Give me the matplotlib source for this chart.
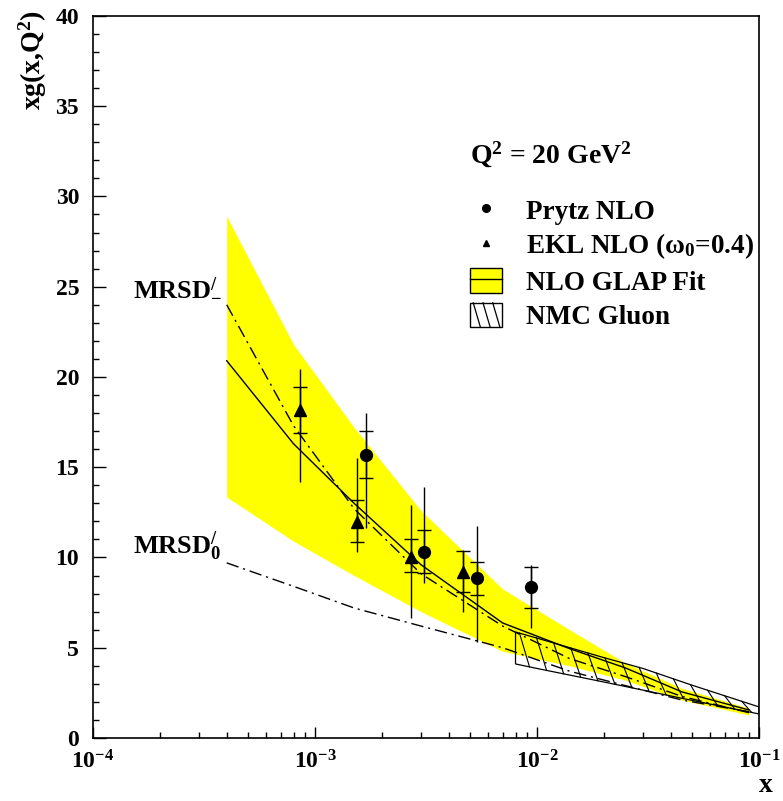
import numpy as np
import matplotlib
matplotlib.use('Agg')
import matplotlib.pyplot as plt
from matplotlib.lines import Line2D
from matplotlib.patches import Patch, Rectangle, Polygon
from matplotlib.legend_handler import HandlerBase, HandlerTuple
from matplotlib.ticker import LogLocator, MultipleLocator, NullFormatter

plt.rcParams['font.family'] = ['Liberation Serif', 'DejaVu Serif']
plt.rcParams['font.weight'] = 'bold'
plt.rcParams['mathtext.fontset'] = 'custom'
plt.rcParams['mathtext.rm'] = 'Liberation Serif:bold'
plt.rcParams['mathtext.bf'] = 'Liberation Serif:bold'
plt.rcParams['mathtext.it'] = 'Liberation Serif:bold'
plt.rcParams['mathtext.default'] = 'bf'
plt.rcParams['axes.unicode_minus'] = False

# ---------------- data ----------------
x_grid = [4e-4, 8e-4, 1.5e-3, 3e-3, 7e-3, 1.4e-2, 2.5e-2, 4.5e-2, 9e-2]
band_hi = [28.9, 21.8, 17.2, 12.6, 8.25, 6.0, 4.15, 2.75, 1.65]
band_lo = [13.35, 10.9, 9.0, 7.0, 4.8, 4.0, 3.2, 2.1, 1.27]
glap_fit = [20.9, 16.3, 13.0, 9.6, 6.37, 4.95, 3.88, 2.55, 1.55]
mrsd_minus = [24.0, 17.3, 12.7, 9.1, 6.2, 4.4, 3.4, 2.3, 1.4]
mrsd_zero = [9.7, 8.4, 7.2, 6.2, 5.0, 3.7, 2.9, 2.1, 1.45]

prytz_x = [1.70e-3, 3.10e-3, 5.37e-3, 9.4e-3]
prytz_y = [15.68, 10.3, 8.86, 8.37]
prytz_tot_hi = [18.0, 13.9, 11.75, 9.58]
prytz_tot_lo = [11.63, 8.59, 5.32, 6.09]
prytz_stat_hi = [17.0, 11.52, 9.75, 9.47]
prytz_stat_lo = [14.4, 9.14, 7.92, 7.2]

ekl_x = [8.55e-4, 1.55e-3, 2.70e-3, 4.65e-3]
ekl_y = [18.17, 11.97, 10.03, 9.2]
ekl_tot_hi = [20.44, 15.51, 12.91, 10.42]
ekl_tot_lo = [14.18, 10.3, 6.65, 6.98]
ekl_stat_hi = [19.45, 13.19, 11.02, 10.36]
ekl_stat_lo = [16.9, 10.86, 9.2, 8.09]

nmc_x = [0.008, 0.01, 0.02, 0.03, 0.05, 0.1]
nmc_hi = [5.87, 5.53, 4.45, 3.85, 2.92, 1.72]
nmc_lo = [4.1, 3.85, 3.1, 2.65, 2.08, 1.33]

y_ticks = [0, 5, 10, 15, 20, 25, 30, 35, 40]
legend_labels = ['Prytz NLO', 'EKL NLO (ω$_{0}$=0.4)', 'NLO GLAP Fit', 'NMC Gluon']

# ---------------- figure ----------------
fig = plt.figure(figsize=(7.83, 8.01), dpi=100)
ax = fig.add_axes([0.1188, 0.0787, 0.8506, 0.9014])
ax.set_xscale('log')
ax.set_xlim(1e-4, 1e-1)
ax.set_ylim(0, 40)

ax.fill_between(x_grid, band_lo, band_hi, color='#ffff00', lw=0, zorder=1)
dashdot = (0, (9, 3.5, 1.5, 3.5))
ax.plot(x_grid, glap_fit, color='k', lw=1.0, zorder=3)
ax.plot(x_grid, mrsd_minus, color='k', lw=1.0, ls=dashdot, zorder=3)
ax.plot(x_grid, mrsd_zero, color='k', lw=1.0, ls=dashdot, zorder=3)

# NMC hatched region
poly_x = list(nmc_x) + list(nmc_x[::-1])
poly_y = list(nmc_hi) + list(nmc_lo[::-1])
ax.add_patch(Polygon(np.column_stack([poly_x, poly_y]), closed=True, fill=False,
                     edgecolor='k', lw=0.9, zorder=4))
lx = np.log10(nmc_x)
step, shift = 0.077, 0.045
for t in np.arange(lx[0] + 0.018, lx[-1] - shift + 1e-9, step):
    ax.plot([10 ** t, 10 ** (t + shift)],
            [np.interp(t, lx, nmc_hi), np.interp(t + shift, lx, nmc_lo)],
            color='k', lw=0.8, zorder=4)

# data points with error bars
def draw_points(xs, ys, thi, tlo, shi, slo, marker, ms):
    xs = np.array(xs); ys = np.array(ys)
    ax.errorbar(xs, ys, yerr=[ys - np.array(tlo), np.array(thi) - ys], fmt='none',
                ecolor='k', elinewidth=1.0, capsize=0, zorder=5)
    ax.errorbar(xs, ys, yerr=[ys - np.array(slo), np.array(shi) - ys], fmt='none',
                ecolor='k', elinewidth=1.0, capsize=5, capthick=1.0, zorder=5)
    ax.plot(xs, ys, ls='none', marker=marker, color='k', ms=ms, zorder=6)

draw_points(prytz_x, prytz_y, prytz_tot_hi, prytz_tot_lo, prytz_stat_hi, prytz_stat_lo, 'o', 8.5)
draw_points(ekl_x, ekl_y, ekl_tot_hi, ekl_tot_lo, ekl_stat_hi, ekl_stat_lo, '^', 9)

# axes styling
ax.yaxis.set_major_locator(MultipleLocator(5))
ax.yaxis.set_minor_locator(MultipleLocator(1))
ax.set_yticks(y_ticks)
ax.xaxis.set_major_locator(LogLocator(base=10, numticks=10))
ax.xaxis.set_minor_locator(LogLocator(base=10, subs=np.arange(2, 10), numticks=20))
ax.xaxis.set_minor_formatter(NullFormatter())
ax.tick_params(which='both', direction='in', top=False, right=False, width=1.0)
ax.tick_params(axis='y', which='major', length=9, labelsize=17, pad=10)
ax.tick_params(axis='y', which='minor', length=4.5)
ax.tick_params(axis='x', which='major', length=8, labelsize=17, pad=9)
ax.tick_params(axis='x', which='minor', length=4)
for s in ax.spines.values():
    s.set_linewidth(1.2)

fig.text(33 / 783, 1 - 10 / 801, r'xg(x,Q$^{2}$)', rotation=90, ha='center', va='top', fontsize=20)
fig.text(766 / 783, 1 - 785 / 801, 'x', ha='center', va='center', fontsize=20)

ax.text(1.51e-4, 24.6, r'MRSD$^{/}_{-}$', fontsize=19, va='baseline', ha='left')
ax.text(1.51e-4, 10.2, r'MRSD$^{/}_{0}$', fontsize=19, va='baseline', ha='left')

ax.text(0.566, 0.8075, r'Q$^{2}$ = 20 GeV$^{2}$', transform=ax.transAxes, fontsize=20,
        ha='left', va='center')

class HatchBox:
    pass

class HatchHandler(HandlerBase):
    def create_artists(self, legend, orig_handle, xdescent, ydescent, width, height, fontsize, trans):
        x0, y0 = -xdescent, -ydescent
        arts = [Rectangle((x0, y0), width, height, facecolor='white', edgecolor='k', lw=1.0,
                          transform=trans)]
        for f in (0.1, 0.4, 0.7):
            arts.append(Line2D([x0 + f * width, x0 + (f + 0.22) * width], [y0 + height, y0],
                               color='k', lw=0.9, transform=trans))
        return arts

h1 = Line2D([], [], marker='o', color='k', ls='none', ms=5.5)
h2 = Line2D([], [], marker='^', color='k', ls='none', ms=5)
h3 = (Patch(facecolor='#ffff00', edgecolor='k', lw=1.0), Line2D([], [], color='k', lw=1.0))
h4 = HatchBox()
ax.legend([h1, h2, h3, h4], legend_labels, loc='upper left', bbox_to_anchor=(0.566, 0.749),
          frameon=False, fontsize=19.5, borderpad=0, borderaxespad=0, handlelength=1.2,
          handleheight=1.0, handletextpad=0.88, labelspacing=0.26,
          handler_map={HatchBox: HatchHandler(), tuple: HandlerTuple(ndivide=1)})

fig.savefig('out.png', dpi=100)
